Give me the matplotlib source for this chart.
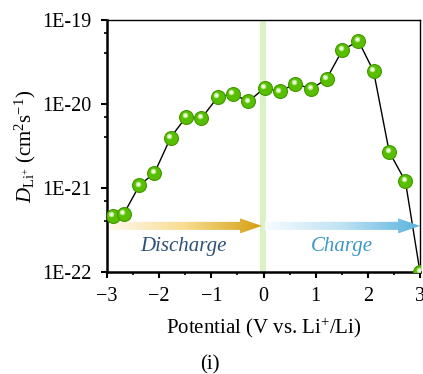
import numpy as np
import matplotlib
matplotlib.use("Agg")
import matplotlib.pyplot as plt
from matplotlib.patches import Polygon
from matplotlib.colors import LinearSegmentedColormap
import matplotlib.transforms as mtransforms
from matplotlib.ticker import FixedLocator, NullFormatter

plt.rcParams['font.family'] = ['Liberation Serif', 'DejaVu Serif']
plt.rcParams['mathtext.fontset'] = 'custom'
plt.rcParams['mathtext.rm'] = 'Liberation Serif'
plt.rcParams['mathtext.it'] = 'Liberation Serif:italic'

# Data
potential = [-2.89, -2.68, -2.38, -2.09, -1.78, -1.48, -1.19, -0.88, -0.59, -0.29,
             0.02, 0.31, 0.61, 0.92, 1.21, 1.51, 1.82, 2.11, 2.41, 2.72, 3.0]
log_D = [-21.33, -21.31, -20.97, -20.82, -20.40, -20.15, -20.17, -19.92, -19.88, -19.97,
         -19.81, -19.85, -19.76, -19.82, -19.70, -19.36, -19.25, -19.61, -20.57, -20.92, -22.0]
D = [10.0 ** v for v in log_D]
y_ticks = [1e-22, 1e-21, 1e-20, 1e-19]
y_ticklabels = ['1E-22', '1E-21', '1E-20', '1E-19']
x_ticks = [-3, -2, -1, 0, 1, 2, 3]
x_ticklabels = ['\u22123', '\u22122', '\u22121', '0', '1', '2', '3']

W, H = 423, 374
fig = plt.figure(figsize=(W / 100, H / 100), dpi=100)
ax = fig.add_axes([107 / W, 1 - 272 / H, 313 / W, 252 / H])

ax.set_yscale('log')
ax.set_xlim(-3, 3)
ax.set_ylim(1e-22, 1e-19)

# vertical band at 0
ax.axvspan(-0.07, 0.04, color='#dcf1c6', zorder=1, lw=0)

# line
ax.plot(potential, D, color='black', lw=1.0, zorder=2)
# balls
ax.plot(potential, D, ls='none', marker='o', ms=10, mfc='#58be00', mec='#409800',
        mew=0.8, zorder=3)
off = mtransforms.offset_copy(ax.transData, fig=fig, x=-1.0, y=1.3, units='points')
ax.plot(potential, D, ls='none', marker='o', ms=4.0, mfc='#b8ea8a', mec='none',
        zorder=4, transform=off)
ax.plot(potential, D, ls='none', marker='o', ms=2.0, mfc='white', mec='none',
        zorder=5, transform=off)

# gradient arrows in axes coords
def grad_arrow(x0, x1, yc, c0, c1):
    sh = 0.016
    hh = 0.030
    hl = 0.070
    verts = [(x0, yc - sh), (x1 - hl, yc - sh), (x1 - hl, yc - hh), (x1, yc),
             (x1 - hl, yc + hh), (x1 - hl, yc + sh), (x0, yc + sh)]
    poly = Polygon(verts, closed=True, transform=ax.transAxes, facecolor='none',
                   edgecolor='none')
    ax.add_patch(poly)
    cmap = LinearSegmentedColormap.from_list('g', c0 + [c1])
    grad = np.linspace(0, 1, 256).reshape(1, -1)
    im = ax.imshow(grad, cmap=cmap, aspect='auto', extent=(x0, x1, yc - hh, yc + hh),
                   transform=ax.transAxes, zorder=2.5, interpolation='bilinear')
    im.set_clip_path(poly)

grad_arrow(0.0, 0.495, 0.183, ['#fffaf0', '#f8dc90'], '#d4a013')
grad_arrow(0.505, 1.0, 0.183, ['#f7fbfe', '#bfe2f3'], '#5ab3de')

ax.text(0.245, 0.10, 'Discharge', transform=ax.transAxes, ha='center', va='center',
        fontsize=15, style='italic', color='#2c5078')
ax.text(0.75, 0.10, 'Charge', transform=ax.transAxes, ha='center', va='center',
        fontsize=15, style='italic', color='#3c97c6')

# ticks
ax.set_yticks(y_ticks)
ax.set_yticklabels(y_ticklabels)
minor = []
for e in [-22, -21, -20]:
    minor += [4 * 10.0 ** e, 7 * 10.0 ** e]
ax.yaxis.set_minor_locator(FixedLocator(minor))
ax.yaxis.set_minor_formatter(NullFormatter())
ax.set_xticks(x_ticks)
ax.set_xticklabels(x_ticklabels)
ax.set_xticks(np.arange(-2.5, 3.0, 1.0), minor=True)

ax.tick_params(axis='both', which='major', direction='out', length=4, width=1.5,
               labelsize=14.5)
ax.tick_params(axis='both', which='minor', direction='out', length=2.5, width=1.2)
ax.tick_params(axis='y', which='major', pad=7)
ax.tick_params(axis='x', which='major', pad=7)

for s in ['left', 'bottom']:
    ax.spines[s].set_linewidth(1.8)
for s in ['top', 'right']:
    ax.spines[s].set_linewidth(1.0)

ax.set_xlabel('Potential (V vs. Li$^{+}$/Li)', fontsize=15, labelpad=7)
ax.set_ylabel('$D_{\\mathrm{Li}^{+}}$ (cm$^{2}$s$^{-1}$)', fontsize=15, labelpad=3)

fig.text(210 / W, 1 - 365 / H, '(i)', ha='center', va='center', fontsize=15)

fig.savefig('out.png', dpi=100)
